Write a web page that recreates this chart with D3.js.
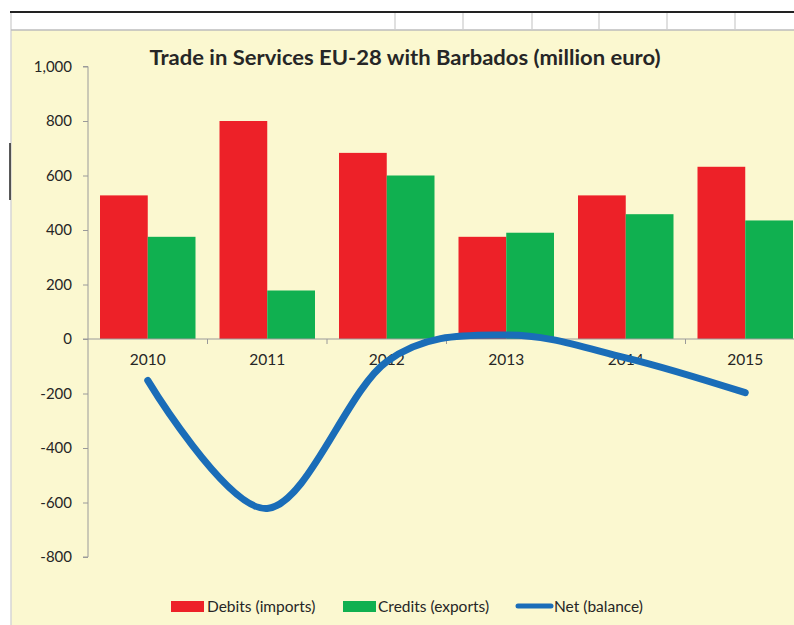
<!DOCTYPE html>
<html>
<head>
<meta charset="utf-8">
<script src="https://cdn.jsdelivr.net/npm/d3@7/dist/d3.min.js"></script>
<style>
  html, body { margin: 0; padding: 0; background: #ffffff; }
  svg { display: block; }
</style>
</head>
<body>
<svg id="chart" width="794" height="625"></svg>
<script>
const years = ["2010", "2011", "2012", "2013", "2014", "2015"];
const debits = [527, 800, 683, 375, 527, 632];
const credits = [375, 178, 600, 390, 458, 435];
const net = [-152, -622, -83, 15, -69, -197];
const yTicks = [-800, -600, -400, -200, 0, 200, 400, 600, 800, 1000];
const titleText = "Trade in Services EU-28 with Barbados (million euro)";
const legendLabels = ["Debits (imports)", "Credits (exports)", "Net (balance)"];

const colors = { debit: "#ED2128", credit: "#10B050", net: "#1A6DB8", bg: "#FBF8D0", axis: "#9a9a9a", text: "#262626" };
const svg = d3.select("#chart");
const font = "Lato, 'Open Sans', sans-serif";
const fmt = d3.format(",");
const tickFmt = d => fmt(d).replace("\u2212", "-");

// spreadsheet frame
svg.append("rect").attr("x", 0).attr("y", 0).attr("width", 794).attr("height", 625).attr("fill", "#fff");
svg.append("rect").attr("x", 11).attr("y", 30).attr("width", 783).attr("height", 595).attr("fill", colors.bg);
svg.append("line").attr("x1", 11).attr("x2", 11).attr("y1", 12).attr("y2", 625).attr("stroke", "#d6d6d6").attr("stroke-width", 1.5);
svg.append("line").attr("x1", 11).attr("x2", 794).attr("y1", 30).attr("y2", 30).attr("stroke", "#bdbdbd").attr("stroke-width", 1.5);
svg.append("line").attr("x1", 10).attr("x2", 794).attr("y1", 12).attr("y2", 12).attr("stroke", "#222").attr("stroke-width", 2);
[395, 463, 532, 599, 667, 735].forEach(x => {
  svg.append("line").attr("x1", x).attr("x2", x).attr("y1", 13).attr("y2", 29).attr("stroke", "#d6d6d6").attr("stroke-width", 1.5);
});
svg.append("line").attr("x1", 10).attr("x2", 10).attr("y1", 143).attr("y2", 200).attr("stroke", "#222").attr("stroke-width", 1.5);

// scales
const y = d3.scaleLinear().domain([-800, 1000]).range([557, 66.5]);
const x = d3.scaleBand().domain(years).range([88, 88 + 6 * 119.5]).paddingInner(0).paddingOuter(0);
const pad = 12;
const bw = (x.bandwidth() - 2 * pad) / 2;

// y axis
const yAxis = svg.append("g").attr("transform", "translate(88,0)")
  .call(d3.axisLeft(y).tickValues(yTicks).tickSize(5).tickPadding(11).tickFormat(tickFmt));
yAxis.select(".domain").attr("stroke", colors.axis).attr("d", `M-5,${y(1000)}H0V${y(-800)}H-5`);
yAxis.selectAll(".tick line").attr("stroke", colors.axis);
yAxis.selectAll(".tick text").attr("fill", colors.text).style("font-family", font).style("font-size", "15px");

// bars
const g = svg.append("g");
g.selectAll(".deb").data(years).join("rect")
  .attr("x", d => x(d) + pad).attr("width", bw)
  .attr("y", (d, i) => y(debits[i])).attr("height", (d, i) => y(0) - y(debits[i]))
  .attr("fill", colors.debit);
g.selectAll(".cred").data(years).join("rect")
  .attr("x", d => x(d) + pad + bw).attr("width", bw)
  .attr("y", (d, i) => y(credits[i])).attr("height", (d, i) => y(0) - y(credits[i]))
  .attr("fill", colors.credit);

// x axis
const xAxis = svg.append("g").attr("transform", `translate(0,${y(0)})`)
  .call(d3.axisBottom(x).tickSize(0).tickPadding(15));
xAxis.select(".domain").attr("stroke", colors.axis).attr("d", "M83,0H794");
xAxis.selectAll(".tick text").attr("fill", colors.text).style("font-family", font).style("font-size", "15.5px");
xAxis.selectAll(".bnd").data(years.slice(1)).join("line")
  .attr("x1", d => x(d)).attr("x2", d => x(d)).attr("y1", 0).attr("y2", 5)
  .attr("stroke", colors.axis);

// net line
const line = d3.line()
  .x((d, i) => x(years[i]) + x.bandwidth() / 2)
  .y(d => y(d))
  .curve(d3.curveCardinal.tension(0));
svg.append("path").datum(net).attr("d", line)
  .attr("fill", "none").attr("stroke", colors.net).attr("stroke-width", 7)
  .attr("stroke-linecap", "round").attr("stroke-linejoin", "round");

// title
svg.append("text").attr("x", 405).attr("y", 65).attr("text-anchor", "middle")
  .attr("textLength", 511).attr("lengthAdjust", "spacingAndGlyphs")
  .style("font-family", font).style("font-weight", "bold").style("font-size", "21px")
  .attr("fill", colors.text).text(titleText);

// legend
const leg = svg.append("g").style("font-family", font).style("font-size", "15.5px").attr("fill", colors.text);
leg.append("rect").attr("x", 171).attr("y", 601).attr("width", 33).attr("height", 11).attr("fill", colors.debit);
leg.append("text").attr("x", 207).attr("y", 612).text(legendLabels[0]);
leg.append("rect").attr("x", 343).attr("y", 601).attr("width", 33).attr("height", 11).attr("fill", colors.credit);
leg.append("text").attr("x", 378).attr("y", 612).text(legendLabels[1]);
leg.append("line").attr("x1", 518).attr("x2", 551).attr("y1", 606).attr("y2", 606)
  .attr("stroke", colors.net).attr("stroke-width", 5).attr("stroke-linecap", "round");
leg.append("text").attr("x", 554).attr("y", 612).text(legendLabels[2]);
</script>
</body>
</html>
